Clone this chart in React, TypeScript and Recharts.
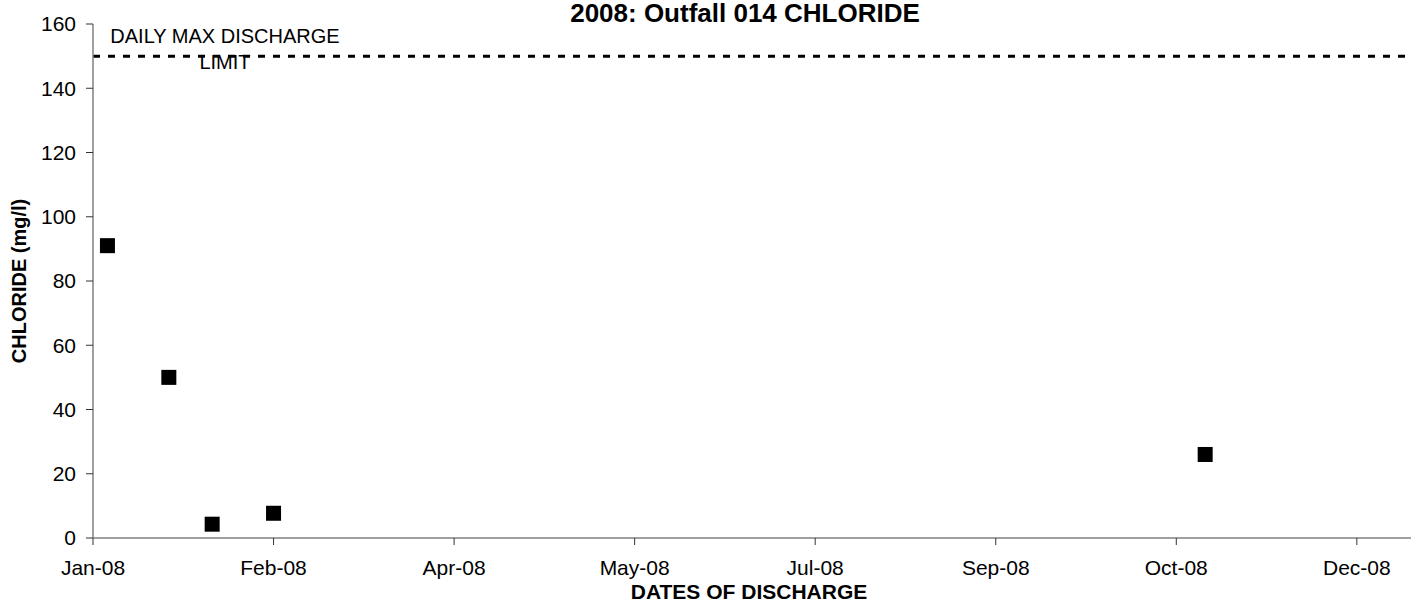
import { ScatterChart, Scatter, XAxis, YAxis, ReferenceLine } from 'recharts';

// sample dates and chloride readings (mg/l)
const sampleDates = ['2008-01-05', '2008-01-22', '2008-02-03', '2008-02-20', '2008-11-04'];
const chlorideValues = [91, 50, 4.3, 7.7, 26];

const dischargeLimit = 150;
const limitLabel = ['DAILY MAX DISCHARGE', 'LIMIT'];
const yTicks = [0, 20, 40, 60, 80, 100, 120, 140, 160];
const tickDates = ['2008-01-01', '2008-02-20', '2008-04-10', '2008-05-30', '2008-07-19', '2008-09-07', '2008-10-27', '2008-12-16'];
const xDomain = ['2008-01-01', '2008-12-31'];

const MONTHS = ['Jan', 'Feb', 'Mar', 'Apr', 'May', 'Jun', 'Jul', 'Aug', 'Sep', 'Oct', 'Nov', 'Dec'];
const toTime = (d: string) => Date.parse(d + 'T00:00:00Z');
const fmtDate = (t: number) => {
  const d = new Date(t);
  return `${MONTHS[d.getUTCMonth()]}-${String(d.getUTCFullYear()).slice(2)}`;
};

const FONT = '"Liberation Sans", Arial, sans-serif';

export default function App() {
  const data = sampleDates.map((d, i) => ({ date: toTime(d), value: chlorideValues[i] }));

  return (
    <div style={{ position: 'absolute', left: 0, top: 0, width: 1411, height: 604, fontFamily: FONT, background: '#fff' }}>
      <div
        style={{
          position: 'absolute',
          left: 345,
          width: 800,
          top: 0,
          lineHeight: 1,
          textAlign: 'center',
          fontSize: 26,
          fontWeight: 'bold',
          color: '#000',
        }}
      >
        2008: Outfall 014 CHLORIDE
      </div>
      <ScatterChart width={1411} height={604} margin={{ top: 24, right: 0, bottom: 6, left: 0 }}>
        <XAxis
          type="number"
          dataKey="date"
          domain={xDomain.map(toTime)}
          ticks={tickDates.map(toTime)}
          tickFormatter={fmtDate}
          height={60}
          tickSize={7}
          tickMargin={15}
          axisLine={{ stroke: '#808080', strokeWidth: 1.5 }}
          tickLine={{ stroke: '#333' }}
          tick={{ fill: '#000', fontSize: 21, fontFamily: FONT }}
          label={{
            content: (props: any) => {
              const vb = props.viewBox;
              return (
                <text x={vb.x + vb.width / 2 - 3} y={vb.y + vb.height + 1} textAnchor="middle" fontSize={21} fontWeight="bold" fontFamily={FONT} fill="#000">
                  DATES OF DISCHARGE
                </text>
              );
            },
          }}
        />
        <YAxis
          type="number"
          dataKey="value"
          domain={[0, 160]}
          ticks={yTicks}
          width={93}
          tickSize={7}
          tickMargin={10}
          axisLine={{ stroke: '#808080', strokeWidth: 1.5 }}
          tickLine={{ stroke: '#333' }}
          tick={{ fill: '#000', fontSize: 21, fontFamily: FONT }}
          label={{
            content: (props: any) => {
              const vb = props.viewBox;
              const cx = vb.x + 19;
              const cy = vb.y + vb.height / 2;
              return (
                <text x={cx} y={cy} transform={`rotate(-90, ${cx}, ${cy})`} textAnchor="middle" dominantBaseline="central" fontSize={20} fontWeight="bold" fontFamily={FONT} fill="#000">
                  CHLORIDE (mg/l)
                </text>
              );
            },
          }}
        />
        <ReferenceLine
          y={dischargeLimit}
          stroke="#000"
          strokeWidth={3}
          strokeDasharray="7 8"
          label={{
            content: (props: any) => {
              const vb = props.viewBox;
              const lx = vb.x + 132;
              return (
                <text x={lx} y={vb.y - 13} textAnchor="middle" fontSize={20} fontFamily={FONT} fill="#000">
                  <tspan x={lx}>{limitLabel[0]}</tspan>
                  <tspan x={lx} dy={26}>{limitLabel[1]}</tspan>
                </text>
              );
            },
          }}
        />
        <Scatter
          data={data}
          fill="#000"
          isAnimationActive={false}
          shape={(p: any) => <rect x={p.cx - 7.5} y={p.cy - 7.5} width={15} height={15} fill="#000" />}
        />
      </ScatterChart>
    </div>
  );
}
